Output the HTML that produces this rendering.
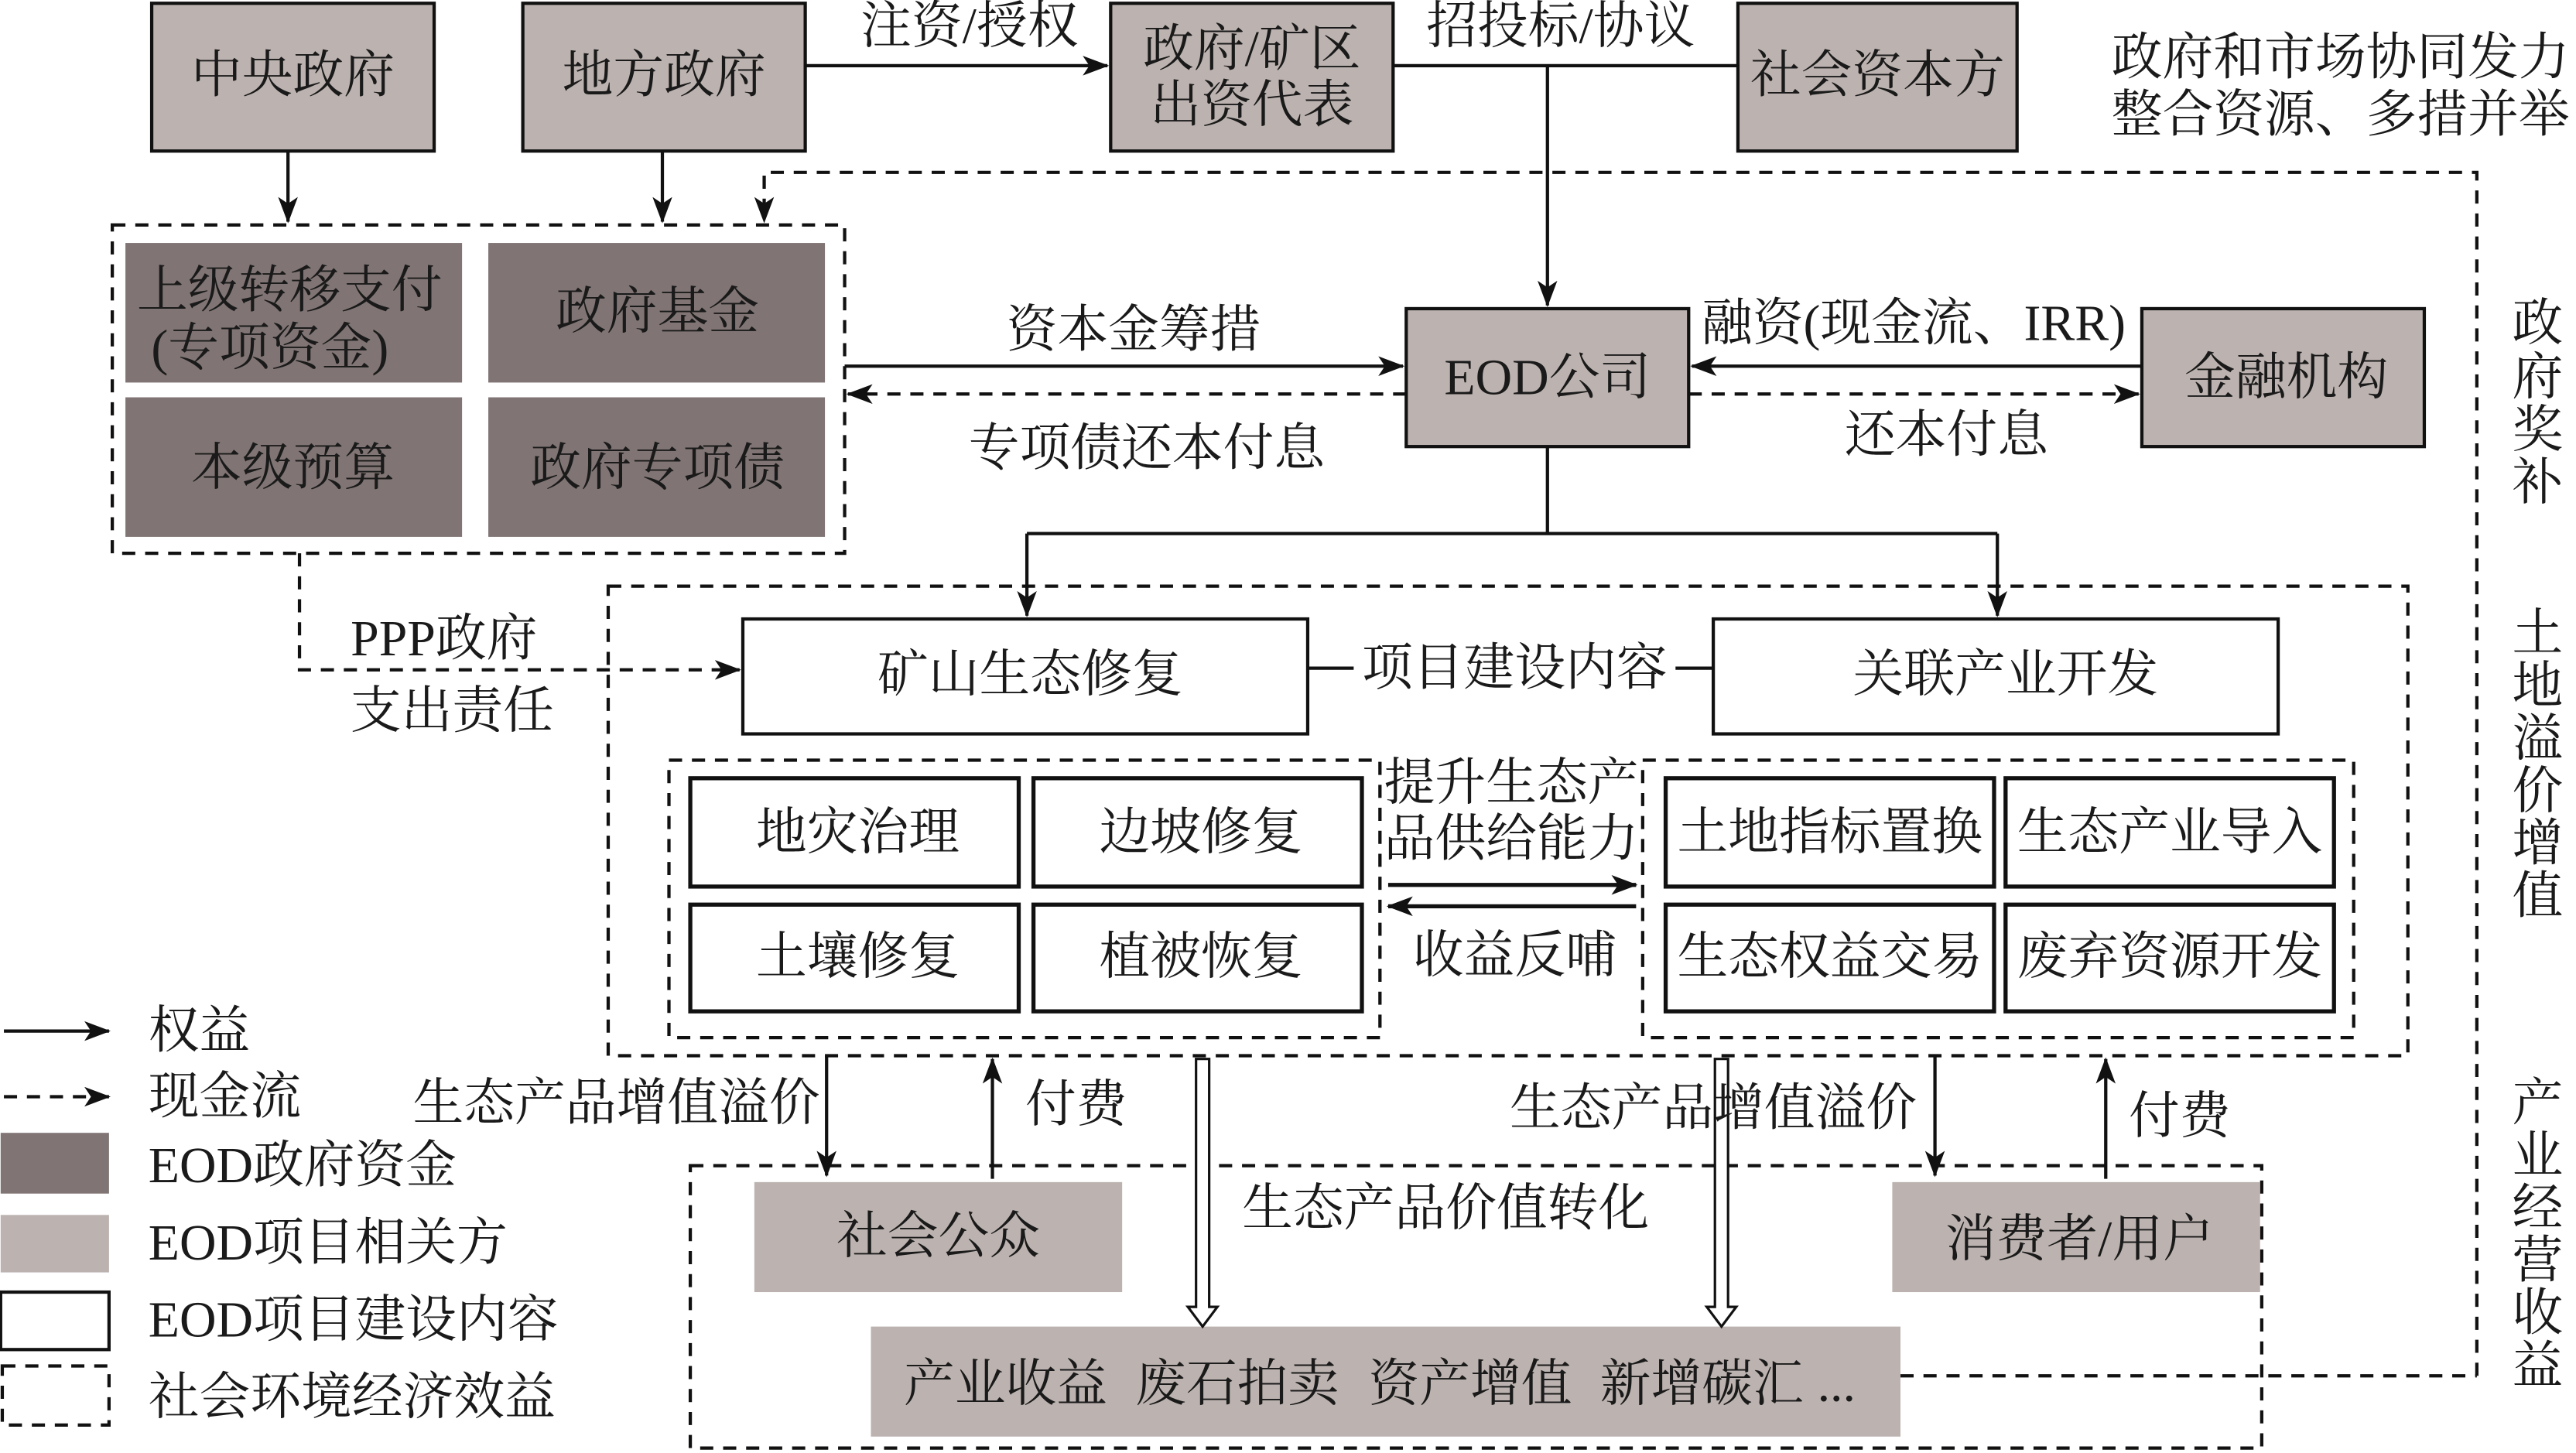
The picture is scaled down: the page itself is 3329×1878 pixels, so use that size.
<!DOCTYPE html>
<html><head><meta charset="utf-8"><style>
html,body{margin:0;padding:0;background:#fff}
svg{display:block}
text{font-family:"Liberation Serif","Noto Serif CJK SC",serif;fill:#1a1a1a;font-size:31px;text-anchor:middle;dominant-baseline:central}
</style></head><body>
<svg width="3329" height="1878" viewBox="0 0 1568 885" xmlns="http://www.w3.org/2000/svg">
<defs>
<marker id="b" markerWidth="16" markerHeight="12" refX="15" refY="6" orient="auto" markerUnits="userSpaceOnUse"><path d="M0,0 L16,6 L0,12 L4,6 Z" fill="#111"/></marker>
</defs>
<g stroke="#111" stroke-width="2" fill="none">
<rect x="92" y="2" width="172" height="90" fill="#bcb3b0"/>
<rect x="318" y="2" width="172" height="90" fill="#bcb3b0"/>
<rect x="676" y="2" width="172" height="90" fill="#bcb3b0"/>
<rect x="1058" y="2" width="170" height="90" fill="#bcb3b0"/>
<line x1="490" y1="40" x2="674" y2="40" marker-end="url(#b)"/>
<line x1="848" y1="40" x2="1058" y2="40"/>
<line x1="942" y1="40" x2="942" y2="186" marker-end="url(#b)"/>
<line x1="175" y1="92" x2="175" y2="135" marker-end="url(#b)"/>
<line x1="403" y1="92" x2="403" y2="135" marker-end="url(#b)"/>
<rect x="68" y="137" width="446" height="200" stroke-dasharray="8,6"/>
<path d="M1508,838 L1508,105 L465,105 L465,135" stroke-dasharray="8,6" marker-end="url(#b)"/>
<line x1="1157" y1="838" x2="1508" y2="838" stroke-dasharray="8,6"/>
<rect x="856" y="188" width="172" height="84" fill="#bcb3b0"/>
<rect x="1304" y="188" width="172" height="84" fill="#bcb3b0"/>
<line x1="514" y1="223" x2="854" y2="223" marker-end="url(#b)"/>
<line x1="856" y1="240" x2="516" y2="240" stroke-dasharray="8,6" marker-end="url(#b)"/>
<line x1="1304" y1="223" x2="1030" y2="223" marker-end="url(#b)"/>
<line x1="1028" y1="240" x2="1302" y2="240" stroke-dasharray="8,6" marker-end="url(#b)"/>
<path d="M942,272 L942,325"/>
<path d="M625,325 L1216,325"/>
<line x1="625" y1="325" x2="625" y2="375" marker-end="url(#b)"/>
<line x1="1216" y1="325" x2="1216" y2="375" marker-end="url(#b)"/>
<rect x="370" y="357" width="1096" height="286" stroke-dasharray="8,6"/>
<rect x="452" y="377" width="344" height="70" fill="#fff"/>
<rect x="1043" y="377" width="344" height="70" fill="#fff"/>
<line x1="796" y1="407" x2="824" y2="407"/>
<line x1="1020" y1="407" x2="1043" y2="407"/>
<rect x="407" y="463" width="433" height="169" stroke-dasharray="8,6"/>
<rect x="1000" y="463" width="433" height="169" stroke-dasharray="8,6"/>
<rect x="420" y="474" width="200" height="66" stroke-width="2.5"/>
<rect x="629" y="474" width="200" height="66" stroke-width="2.5"/>
<rect x="420" y="551" width="200" height="65" stroke-width="2.5"/>
<rect x="629" y="551" width="200" height="65" stroke-width="2.5"/>
<rect x="1014" y="474" width="200" height="66" stroke-width="2.5"/>
<rect x="1221" y="474" width="200" height="66" stroke-width="2.5"/>
<rect x="1014" y="551" width="200" height="65" stroke-width="2.5"/>
<rect x="1221" y="551" width="200" height="65" stroke-width="2.5"/>
<line x1="845" y1="539" x2="996" y2="539" stroke-width="2.5" marker-end="url(#b)"/>
<line x1="996" y1="552" x2="845" y2="552" stroke-width="2.5" marker-end="url(#b)"/>
<path d="M182,337 L182,408 L450,408" stroke-dasharray="8,6" marker-end="url(#b)"/>
<rect x="420" y="710" width="957" height="172" stroke-dasharray="8,6"/>
<line x1="503" y1="643" x2="503" y2="716" marker-end="url(#b)"/>
<line x1="604" y1="718" x2="604" y2="645" marker-end="url(#b)"/>
<line x1="1178" y1="643" x2="1178" y2="716" marker-end="url(#b)"/>
<line x1="1282" y1="718" x2="1282" y2="645" marker-end="url(#b)"/>
</g>
<g fill="#bcb3b0">
<rect x="459" y="720" width="224" height="67"/>
<rect x="1152" y="720" width="224" height="67"/>
<rect x="530" y="808" width="627" height="67"/>
</g>
<g fill="#807574">
<rect x="76" y="148" width="205" height="85"/>
<rect x="297" y="148" width="205" height="85"/>
<rect x="76" y="242" width="205" height="85"/>
<rect x="297" y="242" width="205" height="85"/>
</g>
<g stroke="#111" stroke-width="1.5" fill="#fff">
<path d="M728,645 L736,645 L736,796 L741,796 L732,808 L723,796 L728,796 Z"/>
<path d="M1044,645 L1052,645 L1052,796 L1057,796 L1048,808 L1039,796 L1044,796 Z"/>
</g>
<g stroke="#111" stroke-width="2" fill="none">
<line x1="2" y1="628" x2="66" y2="628" marker-end="url(#b)"/>
<line x1="2" y1="668" x2="66" y2="668" stroke-dasharray="8,6" marker-end="url(#b)"/>
<rect x="0" y="787" width="66" height="35"/>
<rect x="1" y="832" width="65" height="36" stroke-dasharray="8,6"/>
</g>
<rect x="0" y="690" width="66" height="37" fill="#807574"/>
<rect x="0" y="740" width="66" height="35" fill="#bcb3b0"/>
<text x="90" y="628" style="text-anchor:start">权益</text>
<text x="90" y="668" style="text-anchor:start">现金流</text>
<text x="90" y="710" style="text-anchor:start">EOD政府资金</text>
<text x="90" y="757" style="text-anchor:start">EOD项目相关方</text>
<text x="90" y="804" style="text-anchor:start">EOD项目建设内容</text>
<text x="90" y="851" style="text-anchor:start">社会环境经济效益</text>
<text x="178" y="46">中央政府</text>
<text x="404" y="46">地方政府</text>
<text x="762" y="30">政府/矿区</text>
<text x="762" y="64">出资代表</text>
<text x="1143" y="46">社会资本方</text>
<text x="590" y="16">注资/授权</text>
<text x="950" y="16">招投标/协议</text>
<text x="1425" y="35">政府和市场协同发力</text>
<text x="1425" y="70">整合资源、多措并举</text>
<text x="176" y="177">上级转移支付</text>
<text x="164" y="212">(专项资金)</text>
<text x="400" y="190">政府基金</text>
<text x="178" y="285">本级预算</text>
<text x="400" y="285">政府专项债</text>
<text x="690" y="201">资本金筹措</text>
<text x="698" y="273">专项债还本付息</text>
<text x="942" y="230">EOD公司</text>
<text x="1165" y="197">融资(现金流、IRR)</text>
<text x="1185" y="265">还本付息</text>
<text x="1392" y="230">金融机构</text>
<text x="270" y="389">PPP政府</text>
<text x="275" y="433">支出责任</text>
<text x="627" y="411">矿山生态修复</text>
<text x="922" y="407">项目建设内容</text>
<text x="1221" y="411">关联产业开发</text>
<text x="522" y="507">地灾治理</text>
<text x="731" y="507">边坡修复</text>
<text x="522" y="583">土壤修复</text>
<text x="731" y="583">植被恢复</text>
<text x="920" y="477">提升生态产</text>
<text x="920" y="511">品供给能力</text>
<text x="922" y="582">收益反哺</text>
<text x="1114" y="507">土地指标置换</text>
<text x="1321" y="507">生态产业导入</text>
<text x="1114" y="583">生态权益交易</text>
<text x="1321" y="583">废弃资源开发</text>
<text x="375" y="672">生态产品增值溢价</text>
<text x="655" y="673">付费</text>
<text x="1043" y="675">生态产品增值溢价</text>
<text x="1327" y="680">付费</text>
<text x="571" y="753">社会公众</text>
<text x="880" y="736">生态产品价值转化</text>
<text x="1266" y="755">消费者/用户</text>
<text x="612" y="843">产业收益</text>
<text x="753" y="843">废石拍卖</text>
<text x="895" y="843">资产增值</text>
<text x="1036" y="843">新增碳汇</text>
<text x="1118" y="843">...</text>
<text x="1545" y="197">政</text><text x="1545" y="230">府</text><text x="1545" y="262">奖</text><text x="1545" y="294">补</text>
<text x="1545" y="386">土</text><text x="1545" y="418">地</text><text x="1545" y="450">溢</text><text x="1545" y="482">价</text><text x="1545" y="514">增</text><text x="1545" y="546">值</text>
<text x="1545" y="672">产</text><text x="1545" y="704">业</text><text x="1545" y="736">经</text><text x="1545" y="768">营</text><text x="1545" y="800">收</text><text x="1545" y="832">益</text>
</svg>
</body></html>
